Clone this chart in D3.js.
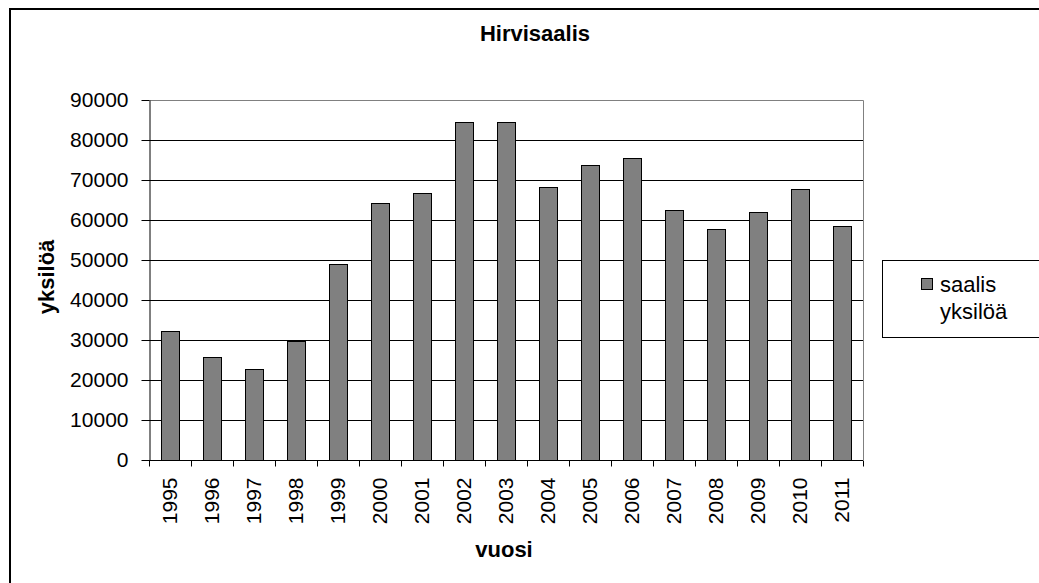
<!DOCTYPE html>
<html>
<head>
<meta charset="utf-8">
<script src="https://cdn.jsdelivr.net/npm/d3@7"></script>
<style>
  body { margin: 0; background: #fff; }
  text { font-family: "Liberation Sans", Arial, sans-serif; fill: #000; }
</style>
</head>
<body>
<div class="chart"></div>
<script>
// Hirvisaalis bar chart

var years = ["1995", "1996", "1997", "1998", "1999", "2000", "2001", "2002", "2003",
             "2004", "2005", "2006", "2007", "2008", "2009", "2010", "2011"];
var saalis = [32300, 25800, 22700, 29700, 49000, 64200, 66800, 84400, 84400,
              68200, 73800, 75600, 62600, 57700, 62100, 67800, 58600];
var yTicks = [0, 10000, 20000, 30000, 40000, 50000, 60000, 70000, 80000, 90000];
var legendLines = ["saalis", "yksilöä"];

var svgWidth = 1039;
var svgHeight = 583;

var margin = { top: 100, left: 149 };
var width = 714;
var height = 360;

var svg = d3.select(".chart")
  .append("svg")
  .attr("width", svgWidth)
  .attr("height", svgHeight);

// outer chart frame (runs off the right / bottom edge)
svg.append("rect")
  .attr("x", 10).attr("y", 9)
  .attr("width", 1060).attr("height", 600)
  .attr("fill", "none")
  .attr("stroke", "#000")
  .attr("stroke-width", 2);

svg.append("text")
  .attr("x", 535).attr("y", 41)
  .attr("text-anchor", "middle")
  .attr("font-size", "22px")
  .attr("font-weight", "bold")
  .text("Hirvisaalis");

var chartGroup = svg.append("g")
  .attr("transform", `translate(${margin.left}, ${margin.top})`);

var xScale = d3.scaleBand()
  .domain(years)
  .range([0, width])
  .paddingInner(0.57)
  .paddingOuter(0.285);

var yScale = d3.scaleLinear()
  .domain([0, 90000])
  .range([height, 0]);

// plot area border (top + right, grey)
chartGroup.append("path")
  .attr("d", `M0.5,0.5H${width + 0.5}V${height}`)
  .attr("fill", "none")
  .attr("stroke", "#808080")
  .attr("stroke-width", 1);

// gridlines
chartGroup.selectAll(".grid")
  .data(yTicks.filter(d => d > 0 && d < 90000))
  .enter()
  .append("line")
  .attr("x1", 0).attr("x2", width)
  .attr("y1", d => Math.round(yScale(d)) + 0.5)
  .attr("y2", d => Math.round(yScale(d)) + 0.5)
  .attr("stroke", "#000")
  .attr("stroke-width", 1);

// bars
chartGroup.selectAll(".bar")
  .data(saalis)
  .enter()
  .append("rect")
  .attr("x", (d, i) => Math.round(xScale(years[i])) + 0.5)
  .attr("y", d => Math.round(yScale(d)) + 0.5)
  .attr("width", Math.round(xScale.bandwidth()))
  .attr("height", d => height - Math.round(yScale(d)))
  .attr("fill", "#808080")
  .attr("stroke", "#000")
  .attr("stroke-width", 1);

// y axis
var leftAxis = d3.axisLeft(yScale)
  .tickValues(yTicks)
  .tickSizeInner(8)
  .tickSizeOuter(0)
  .tickPadding(13)
  .tickFormat(d3.format("d"));

var yAxis = chartGroup.append("g")
  .attr("transform", "translate(0.5, 0)")
  .call(leftAxis);
yAxis.selectAll("text")
  .attr("font-size", "21px")
  .attr("font-family", "Liberation Sans, Arial, sans-serif");
yAxis.selectAll("line, path").attr("stroke", "#000");

// x axis: ticks on band boundaries
var step = xScale.step();
var boundaries = d3.range(years.length + 1).map(i => i * step);

var xAxis = chartGroup.append("g")
  .attr("transform", `translate(0, ${height + 0.5})`);
xAxis.append("line")
  .attr("x1", 0).attr("x2", width)
  .attr("stroke", "#000");
xAxis.selectAll(".xtick")
  .data(boundaries)
  .enter()
  .append("line")
  .attr("x1", d => Math.round(d) + 0.5)
  .attr("x2", d => Math.round(d) + 0.5)
  .attr("y1", 0).attr("y2", 6)
  .attr("stroke", "#000");
xAxis.selectAll(".xlabel")
  .data(years)
  .enter()
  .append("text")
  .attr("transform", d => `translate(${xScale(d) + xScale.bandwidth() / 2}, 17) rotate(-90)`)
  .attr("text-anchor", "end")
  .attr("dy", "0.35em")
  .attr("font-size", "21px")
  .text(d => d);

// axis titles
svg.append("text")
  .attr("transform", `translate(54, 277) rotate(-90)`)
  .attr("text-anchor", "middle")
  .attr("font-size", "22px")
  .attr("font-weight", "bold")
  .text("yksilöä");

svg.append("text")
  .attr("x", 504).attr("y", 557)
  .attr("text-anchor", "middle")
  .attr("font-size", "22px")
  .attr("font-weight", "bold")
  .text("vuosi");

// legend
var legend = svg.append("g");
legend.append("rect")
  .attr("x", 882.5).attr("y", 260.5)
  .attr("width", 200).attr("height", 77)
  .attr("fill", "#fff")
  .attr("stroke", "#000");
legend.append("rect")
  .attr("x", 921.5).attr("y", 278.5)
  .attr("width", 11).attr("height", 11)
  .attr("fill", "#808080")
  .attr("stroke", "#000");
legend.selectAll(".legtext")
  .data(legendLines)
  .enter()
  .append("text")
  .attr("x", 940)
  .attr("y", (d, i) => 292 + i * 27)
  .attr("font-size", "22px")
  .text(d => d);
</script>
</body>
</html>
